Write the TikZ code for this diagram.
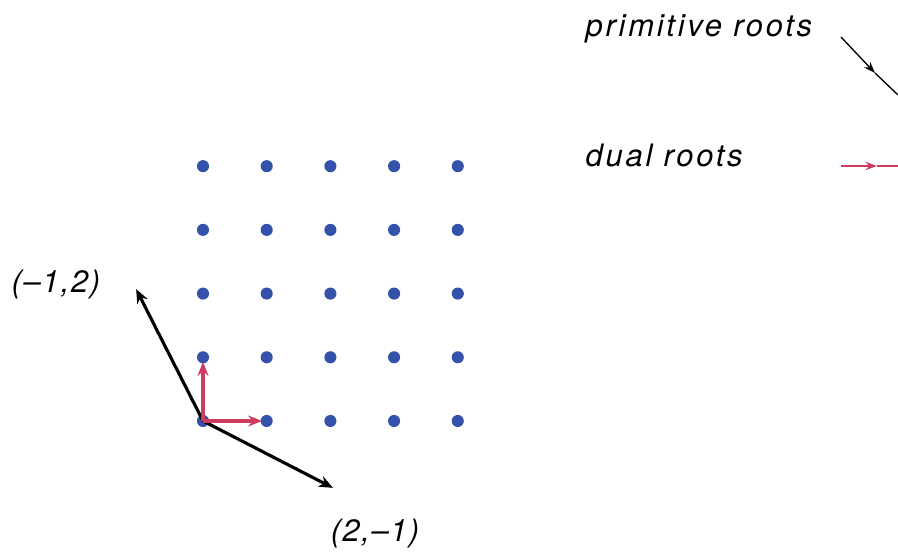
\documentclass[tikz,border=0pt]{standalone}
\usepackage{fontspec}
\setsansfont{TeX Gyre Heros}
\usetikzlibrary{arrows.meta}
\definecolor{dotblue}{RGB}{52,82,170}
\definecolor{rootred}{RGB}{205,60,95}
\tikzset{
  dot/.style={circle,fill=dotblue,inner sep=0pt,minimum size=0.19cm},
  lbl/.style={font=\fontsize{13.8}{16}\sffamily\itshape\addfontfeatures{LetterSpace=5}},
  keylbl/.style={font=\fontsize{13.8}{16}\sffamily\itshape\addfontfeatures{LetterSpace=9},anchor=base west,inner sep=0pt},
  primroot/.style={black,line width=1.4pt,-{Stealth[length=0.22cm,width=0.18cm]}},
  dualroot/.style={rootred,line width=1.6pt,-{Stealth[length=0.22cm,width=0.17cm]}}
}
\begin{document}
\begin{tikzpicture}
    \useasboundingbox (-3.187,-2.119) rectangle (10.911,6.609);
    % lattice
    \foreach \i in {0,...,4}
        \foreach \j in {0,...,4}
            \node[dot] (p-\i-\j) at (\i,\j) {};
    % roots
    \coordinate (pa) at (-1.05,2.07);
    \coordinate (pb) at (2.04,-1.05);
    \coordinate (da) at (0,0.93);
    \coordinate (db) at (0.93,0);
    \draw[primroot] (p-0-0.center) -- (pa);
    \draw[primroot] (p-0-0.center) -- (pb);
    \draw[dualroot] (p-0-0.center) -- (da);
    \draw[dualroot] (p-0-0.center) -- (db);
    \node[lbl,anchor=base] (la) at (-2.31,2.01) {(–1,2)};
    \node[lbl,anchor=base] (lb) at (2.70,-1.90) {(2,–1)};
    % legend
    \node[keylbl] (kp) at (6.0,6.03) {primitive roots};
    \node[keylbl] (kd) at (6.0,4.00) {dual roots};
    \coordinate (kp0) at (10.016,6.028);
    \coordinate (kp1) at (10.55,5.463);
    \coordinate (kp2) at (10.911,5.118);
    \coordinate (kd0) at (10.016,4.003);
    \coordinate (kd1) at (10.58,4.003);
    \coordinate (kd2) at (10.911,4.003);
    \draw[black,line width=0.6pt,-{Stealth[length=0.18cm,width=0.13cm]}] (kp0) -- (kp1);
    \draw[black,line width=0.6pt] (kp1) -- (kp2);
    \draw[rootred,line width=0.6pt,-{Stealth[length=0.18cm,width=0.13cm]}] (kd0) -- (kd1);
    \draw[rootred,line width=0.6pt] (kd1) -- (kd2);
\end{tikzpicture}
\end{document}
